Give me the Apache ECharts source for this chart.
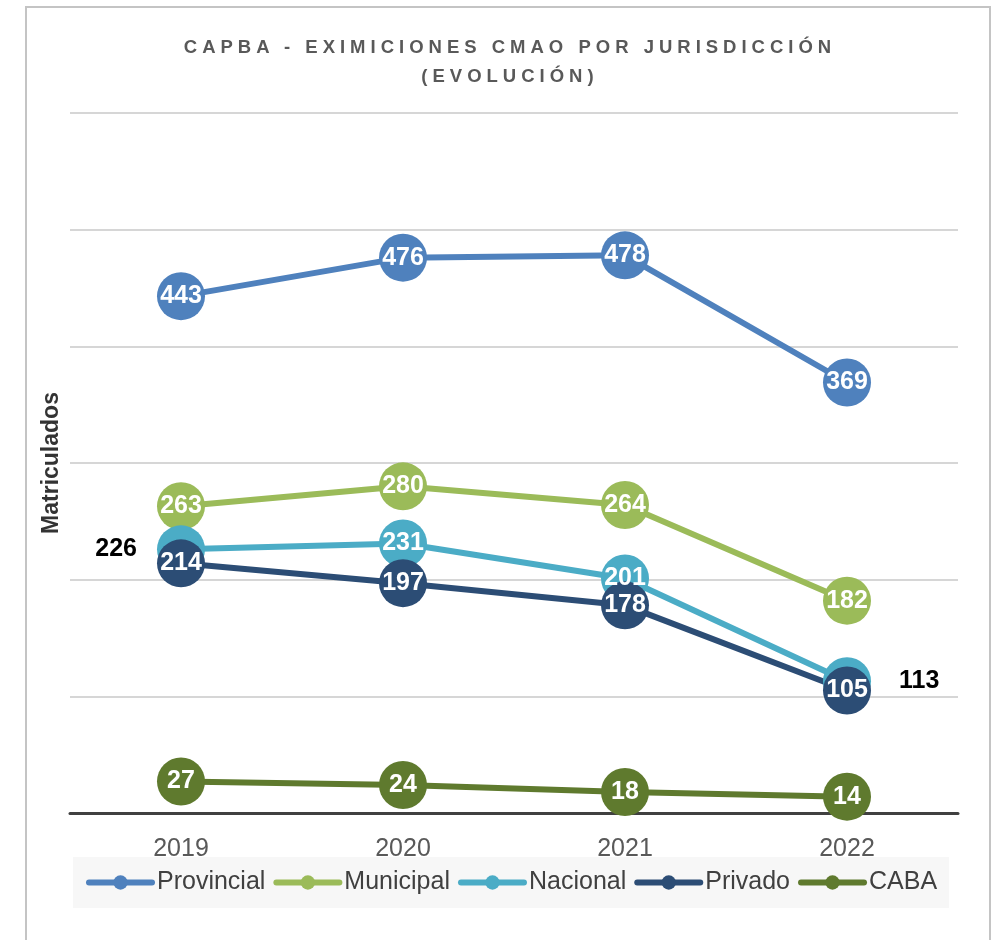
<!DOCTYPE html>
<html>
<head>
<meta charset="utf-8">
<script src="https://cdn.jsdelivr.net/npm/echarts@6/dist/echarts.min.js"></script>
<style>
  html, body { margin: 0; padding: 0; background: #fff; }
  .wrap { position: relative; width: 1000px; height: 940px; overflow: hidden; background: #fff; }
  .frame { position: absolute; left: 25px; top: 6px; width: 966px; height: 1000px; border: 2px solid #c4c4c4; box-sizing: border-box; }
  #chart { position: absolute; left: 0; top: 0; width: 1000px; height: 940px; }
  .title {
    position: absolute; left: 0; top: 32px; width: 1020px; text-align: center;
    font-family: "Liberation Sans", Arial, sans-serif; font-weight: bold; font-size: 18.5px;
    letter-spacing: 5px; line-height: 29px; color: #595959;
  }
</style>
</head>
<body>
<div class="wrap">
  <div class="frame"></div>
  <div id="chart"></div>
  <div class="title">CAPBA - EXIMICIONES CMAO POR JURISDICCIÓN<br>(EVOLUCIÓN)</div>
</div>
<script>
// datos
const years = ['2019', '2020', '2021', '2022']
const provincial = [443, 476, 478, 369]
const municipal = [263, 280, 264, 182]
const nacional = [226, 231, 201, 113]
const privado = [214, 197, 178, 105]
const caba = [27, 24, 18, 14]

const font = '"Liberation Sans", Arial, sans-serif'

function lineSeries(name, color, values, outside) {
  return {
    name,
    type: 'line',
    symbol: 'circle',
    symbolSize: 48,
    itemStyle: { color },
    lineStyle: { color, width: 6 },
    emphasis: { disabled: true },
    label: {
      show: true,
      position: 'inside',
      color: '#fff',
      fontFamily: font,
      fontWeight: 'bold',
      fontSize: 25
    },
    // algunos valores van fuera del círculo (como en el original)
    data: values.map((v, i) => {
      if (outside && outside[i]) {
        return {
          value: v,
          label: { position: outside[i].pos, distance: outside[i].dist, color: '#000' }
        }
      }
      return v
    })
  }
}

const chart = echarts.init(document.getElementById('chart'))
chart.setOption({
  animation: false,
  grid: { left: 70, right: 42, top: 113, bottom: 127 },
  xAxis: {
    type: 'category',
    data: years,
    boundaryGap: true,
    axisLine: { lineStyle: { color: '#404040', width: 3 } },
    axisTick: { show: false },
    axisLabel: { color: '#595959', fontFamily: font, fontSize: 25, margin: 24 }
  },
  yAxis: {
    type: 'value',
    min: 0,
    max: 600,
    interval: 100,
    axisLine: { show: false },
    axisTick: { show: false },
    axisLabel: { show: false },
    splitLine: { lineStyle: { color: '#d6d6d6', width: 2 } },
    name: 'Matriculados',
    nameLocation: 'middle',
    nameGap: 7,
    nameRotate: 90,
    nameTextStyle: { color: '#333', fontFamily: font, fontWeight: 'bold', fontSize: 23 }
  },
  legend: {
    left: 73,
    top: 857,
    padding: [13, 12, 13, 13],
    backgroundColor: '#f7f7f7',
    itemWidth: 63,
    itemHeight: 18,
    itemGap: 8,
    lineStyle: { width: 6, cap: 'round' },
    textStyle: { color: '#404040', fontFamily: font, fontSize: 25 },
    data: ['Provincial', 'Municipal', 'Nacional', 'Privado', 'CABA']
  },
  series: [
    lineSeries('Provincial', '#4f81bd', provincial),
    lineSeries('Municipal', '#9bbb59', municipal),
    lineSeries('Nacional', '#4bacc6', nacional, {
      0: { pos: 'left', dist: 20 },
      3: { pos: 'right', dist: 28 }
    }),
    lineSeries('Privado', '#2c4d75', privado),
    lineSeries('CABA', '#5f7a2e', caba)
  ]
})
</script>
</body>
</html>
